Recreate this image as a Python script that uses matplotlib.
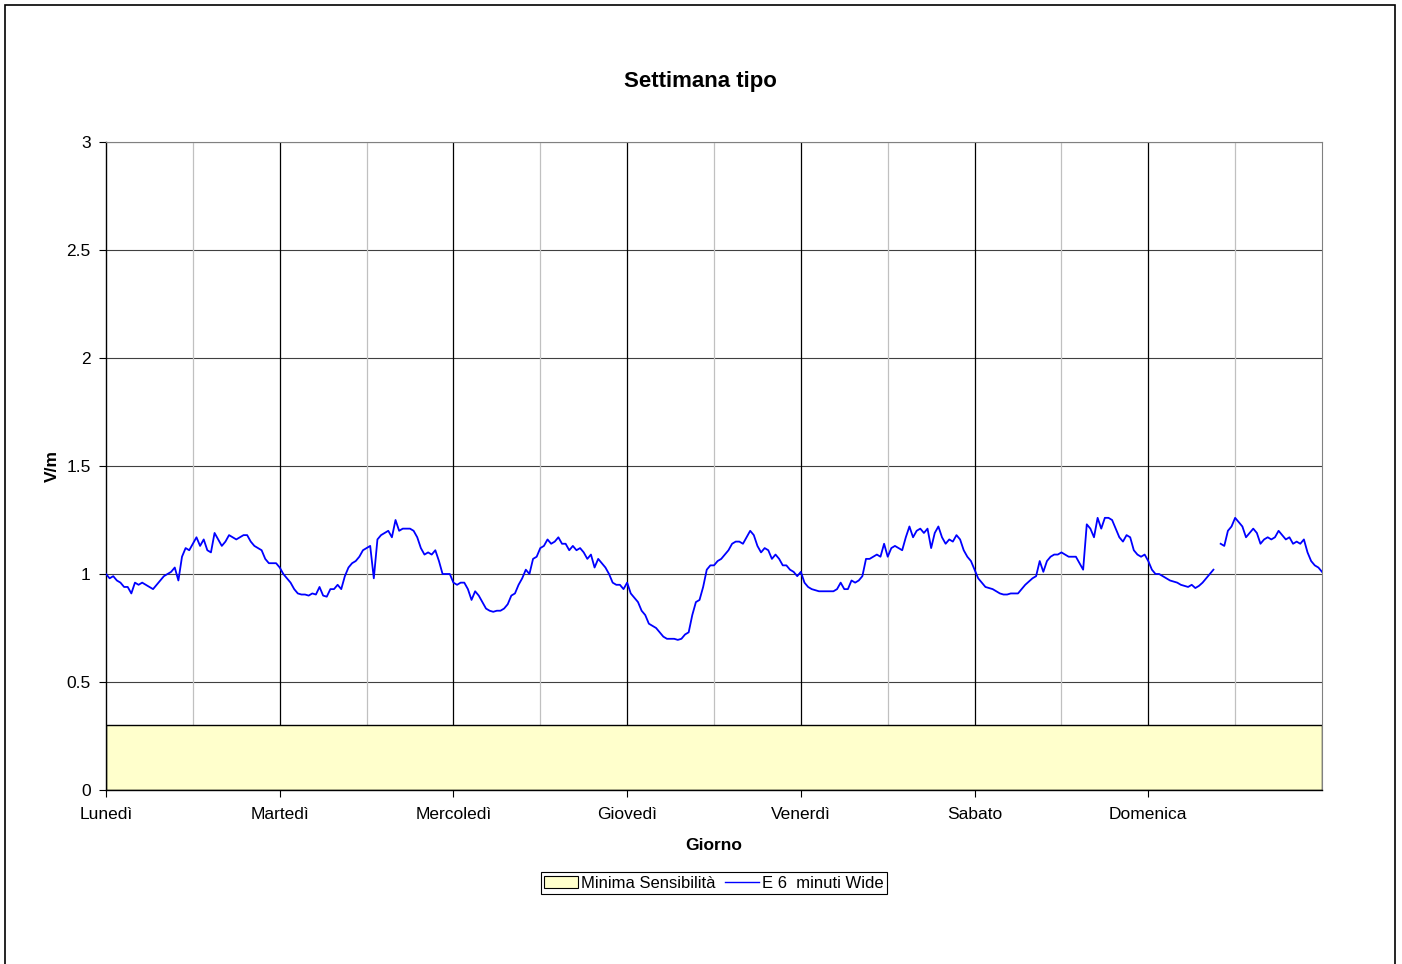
import numpy as np
import matplotlib
matplotlib.use("Agg")
import matplotlib.pyplot as plt
from matplotlib.patches import Rectangle, Patch
from matplotlib.lines import Line2D

plt.rcParams['font.family'] = ['Liberation Sans', 'DejaVu Sans']

days = ["Lunedì", "Martedì", "Mercoledì", "Giovedì", "Venerdì", "Sabato", "Domenica"]
min_sens = 0.3

# half-hourly values (48 per day), V/m
lun = [1.00, 0.98, 0.99, 0.97, 0.96, 0.94, 0.94, 0.91, 0.96, 0.95, 0.96, 0.95,
       0.94, 0.93, 0.95, 0.97, 0.99, 1.00, 1.01, 1.03, 0.97, 1.08, 1.12, 1.11,
       1.14, 1.17, 1.13, 1.16, 1.11, 1.10, 1.19, 1.16, 1.13, 1.15, 1.18, 1.17,
       1.16, 1.17, 1.18, 1.18, 1.15, 1.13, 1.12, 1.11, 1.07, 1.05, 1.05, 1.05]
mar = [1.03, 1.00, 0.98, 0.96, 0.93, 0.91, 0.905, 0.905, 0.90, 0.91, 0.905, 0.94,
       0.90, 0.895, 0.93, 0.93, 0.95, 0.93, 0.99, 1.03, 1.05, 1.06, 1.08, 1.11,
       1.12, 1.13, 0.98, 1.16, 1.18, 1.19, 1.20, 1.17, 1.25, 1.20, 1.21, 1.21,
       1.21, 1.20, 1.17, 1.12, 1.09, 1.10, 1.09, 1.11, 1.06, 1.00, 1.00, 1.00]
mer = [0.96, 0.95, 0.96, 0.96, 0.93, 0.88, 0.92, 0.90, 0.87, 0.84, 0.83, 0.825,
       0.83, 0.83, 0.84, 0.86, 0.90, 0.91, 0.95, 0.98, 1.02, 1.00, 1.07, 1.08,
       1.12, 1.13, 1.16, 1.14, 1.15, 1.17, 1.14, 1.14, 1.11, 1.13, 1.11, 1.12,
       1.10, 1.07, 1.09, 1.03, 1.07, 1.05, 1.03, 1.00, 0.96, 0.95, 0.95, 0.93]
gio = [0.96, 0.91, 0.89, 0.87, 0.83, 0.81, 0.77, 0.76, 0.75, 0.73, 0.71, 0.70,
       0.70, 0.70, 0.695, 0.70, 0.72, 0.73, 0.81, 0.87, 0.88, 0.94, 1.02, 1.04,
       1.04, 1.06, 1.07, 1.09, 1.11, 1.14, 1.15, 1.15, 1.14, 1.17, 1.20, 1.18,
       1.13, 1.10, 1.12, 1.11, 1.07, 1.09, 1.07, 1.04, 1.04, 1.02, 1.01, 0.99]
ven = [1.01, 0.96, 0.94, 0.93, 0.925, 0.92, 0.92, 0.92, 0.92, 0.92, 0.93, 0.96,
       0.93, 0.93, 0.97, 0.96, 0.97, 0.99, 1.07, 1.07, 1.08, 1.09, 1.08, 1.14,
       1.08, 1.12, 1.13, 1.12, 1.11, 1.17, 1.22, 1.17, 1.20, 1.21, 1.19, 1.21,
       1.12, 1.19, 1.22, 1.17, 1.14, 1.16, 1.15, 1.18, 1.16, 1.11, 1.08, 1.06]
sab = [1.02, 0.98, 0.96, 0.94, 0.935, 0.93, 0.92, 0.91, 0.905, 0.905, 0.91, 0.91,
       0.91, 0.93, 0.95, 0.965, 0.98, 0.99, 1.06, 1.01, 1.06, 1.08, 1.09, 1.09,
       1.10, 1.09, 1.08, 1.08, 1.08, 1.05, 1.02, 1.23, 1.21, 1.17, 1.26, 1.21,
       1.26, 1.26, 1.25, 1.21, 1.17, 1.15, 1.18, 1.17, 1.11, 1.09, 1.08, 1.09]
dom = [1.06, 1.02, 1.00, 1.00, 0.99, 0.98, 0.97, 0.965, 0.96, 0.95, 0.945, 0.94,
       0.95, 0.935, 0.945, 0.96, 0.98, 1.00, 1.02, np.nan, 1.14, 1.13, 1.20, 1.22,
       1.26, 1.24, 1.22, 1.17, 1.19, 1.21, 1.19, 1.14, 1.16, 1.17, 1.16, 1.17,
       1.20, 1.18, 1.16, 1.17, 1.14, 1.15, 1.14, 1.16, 1.10, 1.06, 1.04, 1.03]
last_value = 1.01

series = np.array(lun + mar + mer + gio + ven + sab + dom + [last_value], dtype=float)
x = np.arange(len(series)) / 48.0

W, H = 1402, 964
fig = plt.figure(figsize=(W / 100, H / 100), dpi=100)
ax = fig.add_axes([106 / W, 1 - 790 / H, (1322 - 106) / W, (790 - 142) / H])

FS = 12.5

# grid
for yv in np.arange(0.5, 3.01, 0.5):
    ax.axhline(yv, color='#404040', lw=0.8, zorder=1)
for d in np.arange(0.5, 7, 1.0):
    ax.axvline(d, color='#c0c0c0', lw=0.9, zorder=1)
for d in range(1, 7):
    ax.axvline(d, color='#000000', lw=0.9, zorder=1.1)

ax.add_patch(Rectangle((0, 0), 7, min_sens, facecolor='#ffffcc', edgecolor='#000000',
                       lw=1.0, zorder=2))
ax.plot(x, series, color='#0000ff', lw=1.3, zorder=3)

ax.set_xlim(0, 7)
ax.set_ylim(0, 3)
ax.set_xticks(range(0, 7))
ax.set_xticklabels(days)
ax.set_yticks(np.arange(0, 3.01, 0.5))
ax.set_yticklabels(["0", "0.5", "1", "1.5", "2", "2.5", "3"])
ax.tick_params(axis='both', direction='out', length=5, width=0.8, labelsize=FS,
               colors='#000000')
ax.tick_params(axis='y', pad=6)
ax.tick_params(axis='x', pad=7)
for s in ['left', 'bottom']:
    ax.spines[s].set_color('#000000')
    ax.spines[s].set_linewidth(1.0)
for s in ['top', 'right']:
    ax.spines[s].set_color('#808080')
    ax.spines[s].set_linewidth(0.8)

ax.set_xlabel("Giorno", fontsize=FS, fontweight='bold', labelpad=12)
ax.set_ylabel("V/m", fontsize=FS, fontweight='bold', labelpad=5)
fig.text(700 / W, 1 - 82 / H, "Settimana tipo", fontsize=16, fontweight='bold',
         ha='center', va='center')

handles = [Patch(facecolor='#ffffcc', edgecolor='#000000', lw=0.8),
           Line2D([0], [0], color='#0000ff', lw=1.0)]
leg = fig.legend(handles, ["Minima Sensibilità", "E 6  minuti Wide"], ncol=2,
                 loc='center', bbox_to_anchor=(714 / W, 1 - 883 / H), fontsize=12,
                 frameon=True, fancybox=False, edgecolor='#000000', framealpha=1,
                 handlelength=2.0, handleheight=0.7, handletextpad=0.2,
                 columnspacing=0.6, borderpad=0.2, borderaxespad=0)
leg.get_frame().set_linewidth(0.8)

# outer chart frame
fig.patches.append(Rectangle((5 / W, -0.05), 1390 / W, 1.05 - 5 / H,
                             transform=fig.transFigure, fill=False,
                             edgecolor='#000000', lw=1.2))

fig.savefig("out.png", dpi=100)
